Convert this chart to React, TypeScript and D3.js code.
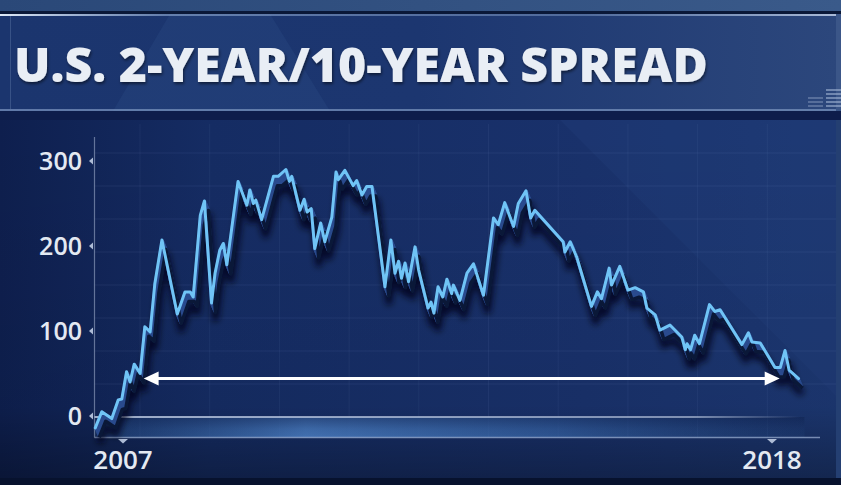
import React from 'react';
import * as d3 from 'd3';

// ---- data (decimal year, spread in basis points) ----
const dates: number[] = [
  2006.53, 2006.64, 2006.81, 2006.92, 2006.98, 2007.06, 2007.12, 2007.19, 2007.29, 2007.37,
  2007.46, 2007.54, 2007.66, 2007.92, 2008.05, 2008.14, 2008.19, 2008.31, 2008.38, 2008.50,
  2008.56, 2008.64, 2008.70, 2008.76, 2008.95, 2009.10, 2009.15, 2009.21, 2009.25, 2009.35,
  2009.55, 2009.63, 2009.76, 2009.82, 2009.86, 2010.00, 2010.07, 2010.12, 2010.19, 2010.25,
  2010.35, 2010.42, 2010.54, 2010.61, 2010.65, 2010.76, 2010.90, 2010.96, 2011.05, 2011.13,
  2011.22, 2011.44, 2011.54, 2011.61, 2011.67, 2011.72, 2011.78, 2011.84, 2011.95, 2012.01,
  2012.17, 2012.22, 2012.27, 2012.34, 2012.42, 2012.49, 2012.57, 2012.60, 2012.71, 2012.83,
  2012.94, 2013.11, 2013.28, 2013.36, 2013.47, 2013.62, 2013.70, 2013.83, 2013.91, 2013.98,
  2014.46, 2014.49, 2014.58, 2014.69, 2014.94, 2015.04, 2015.11, 2015.24, 2015.28, 2015.42,
  2015.56, 2015.68, 2015.82, 2015.88, 2016.02, 2016.10, 2016.27, 2016.47, 2016.53, 2016.56,
  2016.62, 2016.69, 2016.77, 2016.94, 2017.03, 2017.12, 2017.49, 2017.60, 2017.66, 2017.80,
  2018.05, 2018.14, 2018.22, 2018.29, 2018.45,
];
const spreads: number[] = [
  -14, 5, -3, 19, 20, 52, 40, 61, 50, 105,
  99, 156, 207, 120, 146, 146, 140, 236, 253, 133,
  168, 195, 203, 178, 276, 248, 266, 250, 254, 231,
  282, 282, 290, 276, 282, 242, 255, 240, 244, 197,
  227, 205, 234, 287, 278, 289, 271, 277, 260, 270,
  270, 152, 207, 168, 182, 162, 180, 158, 199, 172,
  127, 134, 121, 152, 140, 161, 144, 154, 136, 168,
  179, 142, 233, 225, 251, 223, 250, 265, 233, 242,
  205, 193, 205, 187, 129, 146, 138, 174, 154, 176,
  148, 151, 146, 127, 119, 101, 107, 93, 78, 85,
  78, 95, 85, 131, 123, 125, 84, 98, 87, 86,
  57, 57, 77, 54, 44,
];
const yTicks: number[] = [0, 100, 200, 300];
const xTickYears: number[] = [2007, 2018];
const arrowSpan: number[] = [2007.35, 2018.13];
const arrowLevel = 44;
const title = 'U.S. 2-YEAR/10-YEAR SPREAD';

const W = 841;
const H = 485;

export default function App() {
  const x = d3.scaleLinear().domain([2007, 2018]).range([123, 772]);
  const y = d3.scaleLinear().domain([0, 300]).range([416, 161]);
  const pts: [number, number][] = dates.map((d, i) => [d, spreads[i]]);
  const line = d3
    .line<[number, number]>()
    .x((d) => x(d[0]))
    .y((d) => y(d[1]));
  const path = line(pts) || '';

  const plotLeft = 94.5;
  const zeroY = y(0) + 1;
  const axisY = 437.5;
  const hGrid = d3.range(1, 9).map((k) => zeroY - 33 * k);
  const vGrid = d3.range(0, 10).map((k) => 140 + 69.7 * k);
  const extr = d3.range(1, 11);
  const ay = y(arrowLevel);
  const ax0 = x(arrowSpan[0]);
  const ax1 = x(arrowSpan[1]);

  return (
    <svg
      width={W}
      height={H}
      viewBox={`0 0 ${W} ${H}`}
      style={{ position: 'absolute', left: 0, top: 0, display: 'block' }}
    >
      <defs>
        <linearGradient id="bgMain" x1="0" x2="1" y1="0" y2="0">
          <stop offset="0" stopColor="#0e1f4e" />
          <stop offset="0.25" stopColor="#152c63" />
          <stop offset="0.7" stopColor="#19316b" />
          <stop offset="1" stopColor="#1c3771" />
        </linearGradient>
        <linearGradient id="bgVert" x1="0" x2="0" y1="0" y2="1">
          <stop offset="0" stopColor="#000" stopOpacity="0" />
          <stop offset="0.8" stopColor="#000" stopOpacity="0.05" />
          <stop offset="1" stopColor="#000" stopOpacity="0.3" />
        </linearGradient>
        <linearGradient id="titleBg" x1="0" x2="1" y1="0" y2="0">
          <stop offset="0" stopColor="#1b356e" />
          <stop offset="0.5" stopColor="#1c3670" />
          <stop offset="1" stopColor="#2c477c" />
        </linearGradient>
        <linearGradient id="topStrip" x1="0" x2="1" y1="0" y2="0">
          <stop offset="0" stopColor="#2a4878" />
          <stop offset="1" stopColor="#3a5a8a" />
        </linearGradient>
        <linearGradient id="band" gradientUnits="userSpaceOnUse" x1="94" x2="800" y1="0" y2="0">
          <stop offset="0" stopColor="#2d5a98" stopOpacity="0.35" />
          <stop offset="0.3" stopColor="#4a7dc0" stopOpacity="0.85" />
          <stop offset="0.65" stopColor="#3a6aac" stopOpacity="0.65" />
          <stop offset="1" stopColor="#2a5590" stopOpacity="0.15" />
        </linearGradient>
        <linearGradient id="bandV" gradientUnits="userSpaceOnUse" x1="0" x2="0" y1="417" y2="437">
          <stop offset="0" stopColor="#0b1a45" stopOpacity="0.45" />
          <stop offset="0.6" stopColor="#0b1a45" stopOpacity="0.1" />
          <stop offset="1" stopColor="#0b1a45" stopOpacity="0" />
        </linearGradient>
        <linearGradient id="zeroFade" gradientUnits="userSpaceOnUse" x1="94" x2="800" y1="0" y2="0">
          <stop offset="0" stopColor="#c2cfe6" stopOpacity="0.8" />
          <stop offset="0.85" stopColor="#c2cfe6" stopOpacity="0.6" />
          <stop offset="1" stopColor="#c2cfe6" stopOpacity="0" />
        </linearGradient>
        <linearGradient id="topGlow" gradientUnits="userSpaceOnUse" x1="0" x2="836" y1="0" y2="0">
          <stop offset="0" stopColor="#e8f2ff" stopOpacity="0.95" />
          <stop offset="0.2" stopColor="#a9c3e6" stopOpacity="0.5" />
          <stop offset="0.7" stopColor="#a9c3e6" stopOpacity="0.35" />
          <stop offset="1" stopColor="#e0ecff" stopOpacity="0.7" />
        </linearGradient>
        <filter id="blur" x="-10%" y="-10%" width="120%" height="130%">
          <feGaussianBlur stdDeviation="3" />
        </filter>
        <filter id="tshadow" x="-5%" y="-20%" width="110%" height="150%">
          <feDropShadow dx="1" dy="2" stdDeviation="1.5" floodColor="#000" floodOpacity="0.5" />
        </filter>
      </defs>

      {/* background */}
      <rect x={0} y={0} width={W} height={H} fill="#0c1a44" />
      <rect x={0} y={0} width={W} height={11} fill="url(#topStrip)" />
      <rect x={0} y={11} width={W} height={3} fill="#0a1838" />
      {/* title panel */}
      <rect x={0} y={14} width={836} height={97} fill="url(#titleBg)" />
      <polygon points="170,14 270,14 330,111 113,111" fill="#2a4a85" opacity={0.35} />
      <rect x={0} y={14} width={836} height={2} fill="url(#topGlow)" />
      <rect x={0} y={109} width={836} height={2} fill="#7d97c0" opacity={0.7} />
      <rect x={10} y={16} width={1} height={93} fill="#6f8ab5" opacity={0.35} />
      <rect x={836} y={14} width={5} height={97} fill="#3b5688" />
      <rect x={0} y={111} width={W} height={9} fill="#0e1d4b" />
      {/* chart area */}
      <rect x={0} y={120} width={836} height={358} fill="url(#bgMain)" />
      <polygon points="560,120 836,120 836,396" fill="#22407c" opacity={0.35} />
      <rect x={0} y={120} width={836} height={358} fill="url(#bgVert)" />
      <rect x={836} y={120} width={5} height={358} fill="#243f72" />
      <rect x={0} y={478} width={W} height={7} fill="#07122e" />

      {/* grid */}
      {hGrid.map((gy, i) => (
        <line key={'h' + i} x1={plotLeft} x2={836} y1={gy} y2={gy} stroke="#8aa6d8" strokeOpacity={0.1} />
      ))}
      {vGrid.map((gx, i) => (
        <line key={'v' + i} x1={gx} x2={gx} y1={124} y2={axisY} stroke="#8aa6d8" strokeOpacity={0.08} />
      ))}

      {/* bottom band */}
      <rect x={plotLeft} y={zeroY} width={710} height={axisY - zeroY} fill="url(#band)" />
      <rect x={plotLeft} y={zeroY} width={710} height={axisY - zeroY} fill="url(#bandV)" />
      <rect x={plotLeft} y={zeroY - 1} width={706} height={2} fill="url(#zeroFade)" />
      <line x1={plotLeft} x2={820} y1={axisY} y2={axisY} stroke="#9fb3d6" strokeOpacity={0.7} strokeWidth={1.5} />
      <line x1={plotLeft} x2={plotLeft} y1={137} y2={axisY} stroke="#b5c4de" strokeOpacity={0.5} strokeWidth={1.2} />

      {/* y ticks */}
      {yTicks.map((t) => (
        <g key={'yt' + t}>
          <path d={`M93,${y(t) - 3.5} L89,${y(t)} L93,${y(t) + 3.5} Z`} fill="#aebcd6" />
          <text
            x={82}
            y={y(t)}
            dy="0.35em"
            textAnchor="end"
            fill="#e3e9f2"
            fontFamily="'Open Sans', sans-serif"
            fontWeight={600}
            fontSize={25}
          >
            {t}
          </text>
        </g>
      ))}
      {/* x ticks */}
      {xTickYears.map((yr) => (
        <g key={'xt' + yr}>
          <path d={`M${x(yr) - 5},439 L${x(yr) + 5},439 L${x(yr)},443.5 Z`} fill="#aebcd6" />
          <text
            x={x(yr)}
            y={469}
            textAnchor="middle"
            fill="#e3e9f2"
            fontFamily="'Open Sans', sans-serif"
            fontWeight={600}
            fontSize={26}
          >
            {yr}
          </text>
        </g>
      ))}

      {/* line shadow + extrusion */}
      <path
        d={path}
        transform="translate(4,15)"
        fill="none"
        stroke="#020818"
        strokeOpacity={0.8}
        strokeWidth={7}
        strokeLinejoin="round"
        filter="url(#blur)"
      />
      {extr.map((k) => (
        <path
          key={'e' + k}
          d={path}
          transform={`translate(${k * 0.4},${k * 0.95})`}
          fill="none"
          stroke={k > 9 ? '#0a1838' : '#2a4b8e'}
          strokeWidth={3.5}
          strokeLinejoin="round"
        />
      ))}

      {/* arrow */}
      <line x1={ax0 + 12} x2={ax1 - 12} y1={ay} y2={ay} stroke="#ffffff" strokeWidth={3} />
      <path d={`M${ax0},${ay} L${ax0 + 15},${ay - 7} L${ax0 + 15},${ay + 7} Z`} fill="#ffffff" />
      <path d={`M${ax1},${ay} L${ax1 - 15},${ay - 7} L${ax1 - 15},${ay + 7} Z`} fill="#ffffff" />

      {/* main line */}
      <path d={path} fill="none" stroke="#70c4f6" strokeWidth={3} strokeLinejoin="round" strokeLinecap="round" />

      {/* title */}
      <text
        x={14}
        y={82}
        fill="#e9eef5"
        fontFamily="'Open Sans', sans-serif"
        fontWeight={800}
        fontSize={47}
        textLength={694}
        lengthAdjust="spacingAndGlyphs"
        filter="url(#tshadow)"
      >
        {title}
      </text>

      {/* small logo bars */}
      {d3.range(0, 5).map((i) => (
        <g key={'lb' + i}>
          <rect x={826} y={89 + i * 4} width={15} height={2} fill="#aabbd8" opacity={0.55} />
          {i >= 2 && <rect x={808} y={89 + i * 4} width={15} height={2} fill="#aabbd8" opacity={0.35} />}
        </g>
      ))}
    </svg>
  );
}
